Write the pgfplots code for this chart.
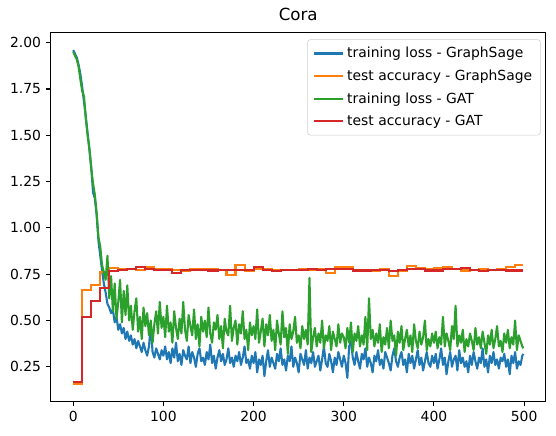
\documentclass[border=0pt]{standalone}
\usepackage{fontspec}
\setmainfont{DejaVu Sans}
\usepackage{pgfplots}
\usepackage{pgfplotstable}
\pgfplotsset{compat=1.18}

\definecolor{tabblue}{HTML}{1F77B4}
\definecolor{taborange}{HTML}{FF7F0E}
\definecolor{tabgreen}{HTML}{2CA02C}
\definecolor{tabred}{HTML}{D62728}

% training loss per epoch (every 2nd epoch)
\pgfplotstableread{
ep sage gat
0 1.96 1.95
2 1.94 1.93
4 1.92 1.91
6 1.88 1.87
8 1.83 1.80
10 1.76 1.74
12 1.68 1.71
14 1.60 1.59
16 1.51 1.50
18 1.42 1.43
20 1.33 1.32
22 1.19 1.24
24 1.16 1.18
26 1.07 1.08
28 0.93 0.95
30 0.85 0.90
32 0.77 0.80
34 0.70 0.76
36 0.65 0.72
38 0.59 0.85
40 0.57 0.62
42 0.54 0.74
44 0.56 0.55
46 0.49 0.70
48 0.52 0.51
50 0.45 0.60
52 0.48 0.72
54 0.43 0.49
56 0.46 0.66
58 0.40 0.53
60 0.44 0.69
62 0.39 0.50
64 0.42 0.58
66 0.37 0.45
68 0.40 0.55
70 0.35 0.62
72 0.39 0.44
74 0.36 0.52
76 0.33 0.40
78 0.38 0.57
80 0.34 0.47
82 0.31 0.54
84 0.36 0.42
86 0.47 0.50
88 0.33 0.38
90 0.30 0.48
92 0.35 0.55
94 0.32 0.43
96 0.29 0.60
98 0.34 0.46
100 0.31 0.52
102 0.36 0.41
104 0.29 0.58
106 0.33 0.44
108 0.27 0.49
110 0.35 0.38
112 0.30 0.55
114 0.38 0.46
116 0.28 0.40
118 0.32 0.51
120 0.26 0.43
122 0.34 0.60
124 0.31 0.45
126 0.29 0.39
128 0.36 0.53
130 0.27 0.47
132 0.33 0.42
134 0.30 0.56
136 0.25 0.40
138 0.32 0.48
140 0.35 0.36
142 0.28 0.52
144 0.30 0.44
146 0.26 0.50
148 0.33 0.41
150 0.29 0.57
152 0.37 0.43
154 0.27 0.38
156 0.31 0.49
158 0.24 0.45
160 0.30 0.53
162 0.34 0.40
164 0.28 0.47
166 0.32 0.35
168 0.26 0.51
170 0.29 0.44
172 0.35 0.42
174 0.27 0.58
176 0.30 0.39
178 0.25 0.46
180 0.31 0.50
182 0.28 0.37
184 0.33 0.48
186 0.26 0.43
188 0.30 0.55
190 0.36 0.40
192 0.27 0.45
194 0.29 0.34
196 0.24 0.49
198 0.31 0.42
200 0.27 0.47
202 0.33 0.40
204 0.22 0.56
206 0.29 0.38
208 0.26 0.44
210 0.31 0.51
212 0.20 0.36
214 0.28 0.48
216 0.34 0.42
218 0.25 0.53
220 0.30 0.39
222 0.27 0.45
224 0.24 0.34
226 0.32 0.50
228 0.28 0.43
230 0.35 0.37
232 0.26 0.55
234 0.29 0.41
236 0.23 0.46
238 0.31 0.32
240 0.28 0.48
242 0.36 0.40
244 0.25 0.44
246 0.30 0.52
248 0.27 0.38
250 0.22 0.42
252 0.32 0.35
254 0.29 0.47
256 0.26 0.40
258 0.34 0.45
260 0.24 0.37
262 0.30 0.73
264 0.27 0.33
266 0.33 0.41
268 0.25 0.46
270 0.28 0.36
272 0.31 0.43
274 0.23 0.38
276 0.29 0.50
278 0.36 0.35
280 0.27 0.42
282 0.25 0.39
284 0.32 0.47
286 0.28 0.34
288 0.22 0.44
290 0.30 0.40
292 0.26 0.36
294 0.33 0.48
296 0.29 0.38
298 0.25 0.43
300 0.31 0.41
302 0.27 0.35
304 0.19 0.46
306 0.36 0.38
308 0.39 0.49
310 0.30 0.33
312 0.26 0.43
314 0.33 0.39
316 0.28 0.47
318 0.24 0.36
320 0.32 0.42
322 0.29 0.37
324 0.35 0.52
326 0.25 0.34
328 0.30 0.62
330 0.27 0.40
332 0.22 0.45
334 0.31 0.36
336 0.28 0.43
338 0.34 0.38
340 0.26 0.48
342 0.29 0.33
344 0.24 0.41
346 0.33 0.37
348 0.30 0.46
350 0.27 0.35
352 0.23 0.50
354 0.31 0.39
356 0.35 0.42
358 0.28 0.31
360 0.25 0.44
362 0.30 0.38
364 0.33 0.47
366 0.26 0.34
368 0.29 0.40
370 0.22 0.45
372 0.32 0.36
374 0.27 0.42
376 0.31 0.33
378 0.24 0.48
380 0.29 0.39
382 0.34 0.35
384 0.26 0.44
386 0.30 0.37
388 0.23 0.41
390 0.28 0.50
392 0.33 0.34
394 0.27 0.40
396 0.25 0.36
398 0.31 0.43
400 0.27 0.38
402 0.32 0.44
404 0.24 0.35
406 0.29 0.41
408 0.35 0.37
410 0.26 0.52
412 0.30 0.36
414 0.21 0.43
416 0.28 0.39
418 0.33 0.34
420 0.25 0.47
422 0.29 0.40
424 0.31 0.58
426 0.23 0.36
428 0.34 0.42
430 0.27 0.38
432 0.30 0.45
434 0.25 0.33
436 0.28 0.40
438 0.22 0.36
440 0.31 0.43
442 0.26 0.39
444 0.33 0.34
446 0.28 0.46
448 0.24 0.37
450 0.30 0.41
452 0.27 0.35
454 0.35 0.44
456 0.25 0.38
458 0.29 0.32
460 0.22 0.42
462 0.31 0.37
464 0.27 0.45
466 0.33 0.35
468 0.26 0.40
470 0.29 0.47
472 0.24 0.36
474 0.30 0.39
476 0.28 0.33
478 0.32 0.43
480 0.25 0.38
482 0.29 0.45
484 0.21 0.35
486 0.31 0.41
488 0.27 0.37
490 0.33 0.50
492 0.24 0.34
494 0.28 0.42
496 0.26 0.39
498 0.31 0.36
499 0.32 0.35
}\losstable

% test accuracy, evaluated every 10 epochs
\pgfplotstableread{
ep sage gat
0 0.155 0.170
10 0.665 0.520
20 0.690 0.605
30 0.760 0.675
40 0.785 0.765
50 0.780 0.775
60 0.780 0.780
70 0.775 0.790
80 0.790 0.780
90 0.780 0.775
100 0.780 0.775
110 0.775 0.755
120 0.770 0.775
130 0.780 0.775
140 0.780 0.775
150 0.780 0.770
160 0.775 0.775
170 0.745 0.775
180 0.800 0.775
190 0.765 0.775
200 0.780 0.790
210 0.780 0.775
220 0.770 0.765
230 0.775 0.775
240 0.775 0.775
250 0.780 0.775
260 0.775 0.780
270 0.780 0.775
280 0.755 0.780
290 0.790 0.780
300 0.790 0.780
310 0.775 0.770
320 0.775 0.770
330 0.765 0.775
340 0.780 0.775
350 0.740 0.765
360 0.770 0.775
370 0.795 0.780
380 0.785 0.780
390 0.780 0.770
400 0.785 0.770
410 0.790 0.780
420 0.780 0.780
430 0.770 0.785
440 0.775 0.775
450 0.780 0.765
460 0.775 0.775
470 0.780 0.775
480 0.790 0.770
490 0.800 0.770
499 0.800 0.770
}\acctable

\begin{document}
\begin{tikzpicture}
\begin{axis}[
    name=ax,
    scale only axis,
    width=356.4pt,
    height=265.5pt,
    xmin=-24.95, xmax=523.95,
    ymin=0.0647, ymax=2.056,
    xtick={0,100,...,500},
    ytick={0.25,0.5,...,2.0},
    yticklabel style={/pgf/number format/.cd, fixed, fixed zerofill, precision=2},
    /pgf/number format/assume math mode=true,
    tick label style={font=\fontsize{10}{12}\selectfont},
    tick align=outside,
    xtick pos=lower, ytick pos=left,
    major tick length=3.5pt,
    tick style={black, line width=0.8pt},
    axis line style={line width=0.8pt},
    title={Cora},
    title style={font=\fontsize{12}{14}\selectfont, yshift=-1pt},
    legend cell align=left,
    legend style={at={(rel axis cs:1,1)}, anchor=north east,
        xshift=-3.6pt, yshift=-5pt,
        draw=black!20, rounded corners=2pt,
        font=\fontsize{10}{12}\selectfont,
        row sep=3.2pt, inner xsep=4pt, inner ysep=3.5pt},
    legend image code/.code={\draw[#1, line width=1.5pt] (0pt,0pt) -- (21pt,0pt);},
]
\addplot[tabblue, line width=1.5pt, line join=round] table[x=ep, y=sage] {\losstable};
\addplot[taborange, line width=1.5pt, const plot] table[x=ep, y=sage] {\acctable};
\addplot[tabgreen, line width=1.5pt, line join=round] table[x=ep, y=gat] {\losstable};
\addplot[tabred, line width=1.5pt, const plot] table[x=ep, y=gat] {\acctable};
\legend{training loss - GraphSage, test accuracy - GraphSage, training loss - GAT, test accuracy - GAT}
\end{axis}
% page = axis box plus the margins the reference figure has round it
\pgfresetboundingbox
\path ([shift={(-36.5pt,-24.5pt)}]ax.south west)
    rectangle ([shift={(7.4pt,23.3pt)}]ax.north east);
\end{tikzpicture}
\end{document}
